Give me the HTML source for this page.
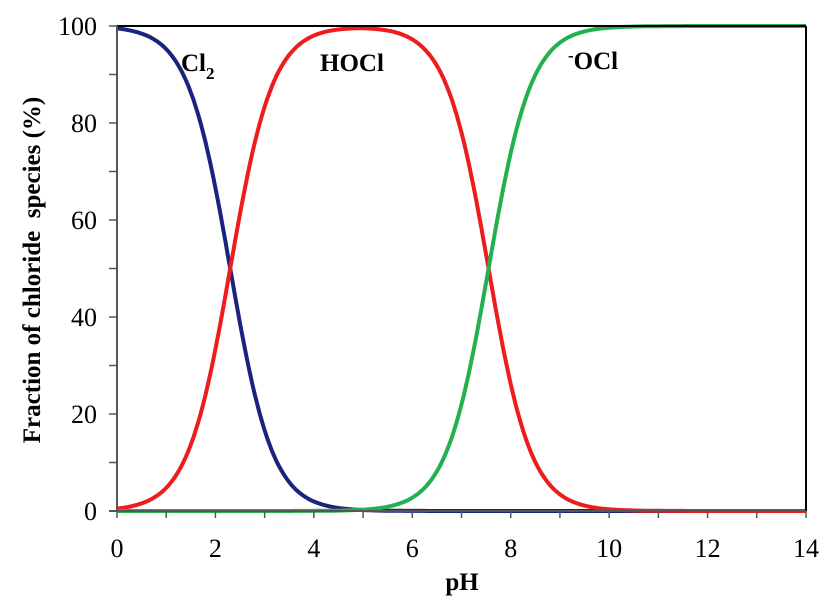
<!DOCTYPE html>
<html><head><style>body{margin:0;background:#fff}svg{display:block}</style></head><body>
<svg id="s" width="835" height="610" xmlns="http://www.w3.org/2000/svg" font-family="Liberation Serif, serif">
<g id="g"></g>
<line x1="117" y1="26" x2="806" y2="26" stroke="#000" stroke-width="2"/>
<line x1="806" y1="26" x2="806" y2="511" stroke="#000" stroke-width="2"/>
<line x1="117" y1="26" x2="117" y2="511" stroke="#555" stroke-width="2"/>
<line x1="109" y1="511" x2="806" y2="511" stroke="#555" stroke-width="2"/>
<g id="t" stroke="#555" stroke-width="1.5"></g>
<g font-size="26" text-anchor="end">
<text x="97" y="520">0</text><text x="97" y="423">20</text><text x="97" y="326">40</text><text x="97" y="229">60</text><text x="97" y="132">80</text><text x="97" y="35">100</text>
</g>
<g font-size="26" text-anchor="middle" id="xl"></g>
<text x="462" y="590" font-size="25" font-weight="bold" text-anchor="middle">pH</text>
<text transform="translate(40,270) rotate(-90)" font-size="25" font-weight="bold" text-anchor="middle" xml:space="preserve">Fraction of chloride  species (%)</text>
<text x="181" y="71" font-size="25" font-weight="bold">Cl<tspan font-size="17" dy="8">2</tspan></text>
<text x="320" y="71" font-size="25" font-weight="bold">HOCl</text>
<text x="568" y="69" font-size="25" font-weight="bold"><tspan font-size="17" dy="-8">-</tspan><tspan dy="8">OCl</tspan></text>
</svg>
<script>
var X=p=>117+p*(689/14),Y=v=>511-v*4.85;
var a=[],b=[],c=[];
for(var p=0;p<=14.001;p+=0.05){var r1=Math.pow(10,p-2.3),r2=Math.pow(10,p-7.55);
var d=1+r1+r1*r2;var f1=1/d,f2=r1/d,f3=r1*r2/d;
a.push(X(p).toFixed(1)+','+Y(f1*100).toFixed(1));b.push(X(p).toFixed(1)+','+Y(f2*100).toFixed(1));c.push(X(p).toFixed(1)+','+Y(f3*100).toFixed(1));}
var g=document.getElementById('g');
g.innerHTML='<polyline fill="none" stroke="#1a237e" stroke-width="4" points="'+a.join(' ')+'"/>'+
'<polyline fill="none" stroke="#ee1c1c" stroke-width="4" points="'+b.join(' ')+'"/>'+
'<polyline fill="none" stroke="#22b14c" stroke-width="4" points="'+c.join(' ')+'"/>';
var t='',xl='';
for(var v=0;v<=100;v+=10){var y=Y(v);t+='<line x1="109" y1="'+y+'" x2="117" y2="'+y+'"/>';}
for(var p=0;p<=14;p++){var x=X(p);t+='<line x1="'+x+'" y1="511" x2="'+x+'" y2="518"/>';if(p%2==0)xl+='<text x="'+x+'" y="557">'+p+'</text>';}
document.getElementById('t').innerHTML=t;document.getElementById('xl').innerHTML=xl;
</script>
</body></html>
